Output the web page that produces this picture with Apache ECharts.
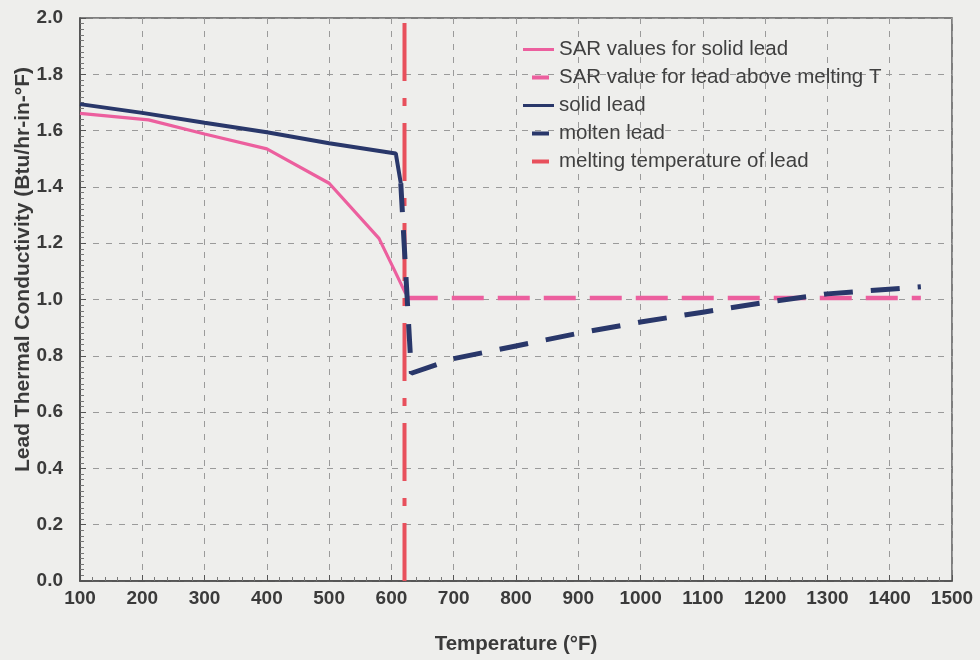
<!DOCTYPE html>
<html>
<head>
<meta charset="utf-8">
<script src="https://cdn.jsdelivr.net/npm/echarts@6/dist/echarts.min.js"></script>
<style>
html,body{margin:0;padding:0;background:#eeeeec;}
#chart{width:980px;height:660px;}
</style>
</head>
<body>
<div id="chart"></div>
<script>
// Temperature (°F) / conductivity (Btu/hr-in-°F)
const sarSolidT = [100, 210, 300, 400, 500, 580, 604, 623];
const sarSolidK = [1.661, 1.638, 1.588, 1.535, 1.413, 1.217, 1.108, 1.02];
const sarMoltenT = [623, 1450];
const sarMoltenK = [1.005, 1.005];
const solidT = [100, 200, 300, 400, 500, 607, 615];
const solidK = [1.694, 1.663, 1.628, 1.594, 1.555, 1.519, 1.413];
const moltenT = [615, 632, 700, 800, 900, 1000, 1100, 1200, 1300, 1450];
const moltenK = [1.413, 0.738, 0.79, 0.835, 0.88, 0.92, 0.955, 0.99, 1.02, 1.045];
const meltT = [621, 621];
const meltK = [0, 2.0];
const seriesNames = ['SAR values for solid lead', 'SAR value for lead above melting T', 'solid lead', 'molten lead', 'melting temperature of lead'];

const zip = (a, b) => a.map((v, i) => [v, b[i]]);
const PINK = '#ec5f9e', NAVY = '#29376a', RED = '#e8505c';
const txt = '#3a3a3a';
const FONT = 'Liberation Sans, Arial';
// legend icons: invisible zero-area corners fix the box, visible bar inside
const longIcon = 'path://M0,0L31,0L0,0Z M0,20L31,20L0,20Z M0,8.5L31,8.5L31,11.5L0,11.5Z';
const shortIcon = 'path://M0,0L31,0L0,0Z M0,20L31,20L0,20Z M9,8L26,8L26,12L9,12Z';

const chart = echarts.init(document.getElementById('chart'), null, {renderer: 'canvas'});
chart.setOption({
  backgroundColor: '#eeeeec',
  animation: false,
  grid: {left: 80, right: 28, top: 18, bottom: 79, containLabel: false, outerBoundsMode: 'none',
    show: true, borderColor: '#5a5a5a', borderWidth: 1.5, backgroundColor: 'transparent'},
  legend: {
    orient: 'vertical', left: 518, top: 34, itemGap: 7, itemWidth: 31, itemHeight: 20,
    textStyle: {fontFamily: FONT, fontSize: 20.5, color: '#404040'},
    data: [
      {name: seriesNames[0], icon: longIcon, itemStyle: {color: PINK}},
      {name: seriesNames[1], icon: shortIcon, itemStyle: {color: PINK}},
      {name: seriesNames[2], icon: longIcon, itemStyle: {color: NAVY}},
      {name: seriesNames[3], icon: shortIcon, itemStyle: {color: NAVY}},
      {name: seriesNames[4], icon: shortIcon, itemStyle: {color: RED}}
    ]
  },
  xAxis: {
    type: 'value', min: 100, max: 1500, interval: 100,
    name: 'Temperature (°F)', nameLocation: 'middle', nameGap: 53, nameMoveOverlap: false,
    nameTextStyle: {fontFamily: FONT, fontWeight: 'bold', fontSize: 20.5, color: txt},
    axisLine: {show: true, onZero: false, lineStyle: {color: '#4a4a4a', width: 1.5}},
    axisTick: {show: true, inside: true, length: 6, lineStyle: {color: '#555'}},
    minorTick: {show: true, splitNumber: 5, length: 4, lineStyle: {color: '#777'}},
    axisLabel: {fontFamily: FONT, fontWeight: 'bold', fontSize: 19, color: txt, margin: 8,
      formatter: v => String(v)},
    splitLine: {show: true, lineStyle: {color: '#9a9a9a', type: [6, 7], width: 1}}
  },
  yAxis: {
    type: 'value', min: 0, max: 2.0, interval: 0.2,
    name: 'Lead Thermal Conductivity (Btu/hr-in-°F)', nameLocation: 'middle', nameGap: 46, nameMoveOverlap: false,
    nameTextStyle: {fontFamily: FONT, fontWeight: 'bold', fontSize: 21, color: txt, padding: [0, 0, 0, 60]},
    axisLine: {show: true, lineStyle: {color: '#4a4a4a', width: 1.5}},
    axisTick: {show: true, inside: true, length: 6, lineStyle: {color: '#555'}},
    minorTick: {show: true, splitNumber: 10, length: 4, lineStyle: {color: '#777'}},
    axisLabel: {fontFamily: FONT, fontWeight: 'bold', fontSize: 19, color: txt, margin: 17,
      formatter: v => v.toFixed(1)},
    splitLine: {show: true, lineStyle: {color: '#9a9a9a', type: [6, 7], width: 1}}
  },
  series: [
    {name: seriesNames[4], type: 'line', data: zip(meltT, meltK), symbol: 'none', z: 1,
      lineStyle: {color: RED, width: 4, type: [58, 17, 8, 17]}, itemStyle: {color: RED}},
    {name: seriesNames[1], type: 'line', data: zip(sarMoltenT, sarMoltenK), symbol: 'none', z: 2,
      lineStyle: {color: PINK, width: 4.5, type: [32, 14]}, itemStyle: {color: PINK}},
    {name: seriesNames[0], type: 'line', data: zip(sarSolidT, sarSolidK), symbol: 'none', z: 3,
      lineStyle: {color: PINK, width: 3.2}, itemStyle: {color: PINK}},
    {name: seriesNames[3], type: 'line', data: zip(moltenT, moltenK), symbol: 'none', z: 4,
      lineStyle: {color: NAVY, width: 5, type: [29, 18]}, itemStyle: {color: NAVY}},
    {name: seriesNames[2], type: 'line', data: zip(solidT, solidK), symbol: 'none', z: 5,
      lineStyle: {color: NAVY, width: 4}, itemStyle: {color: NAVY}}
  ]
});
</script>
</body>
</html>
